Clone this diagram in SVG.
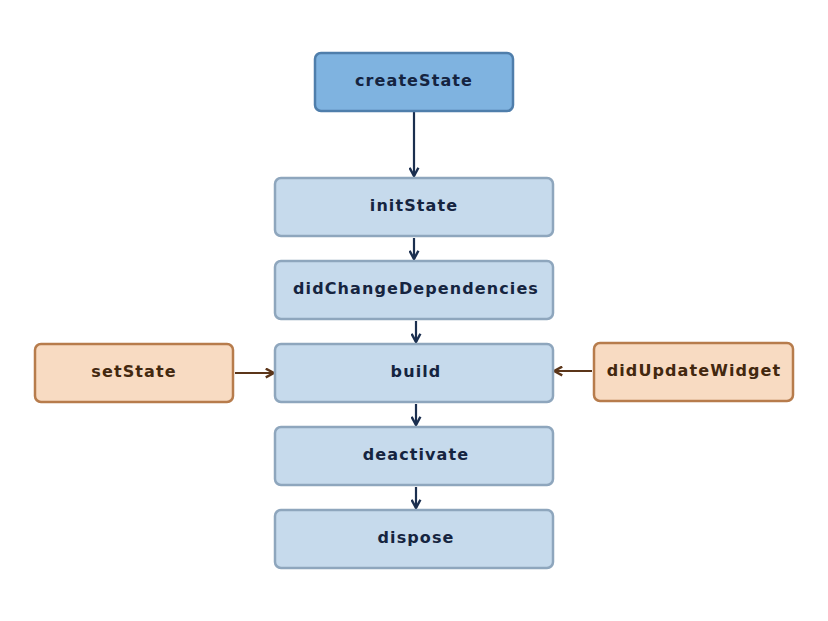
<svg xmlns="http://www.w3.org/2000/svg" width="828" height="621" viewBox="0 0 828 621">
<style>
.box rect{stroke-width:2.5}
.main rect{fill:#7fb3e0;stroke:#4f7eab}
.life rect{fill:#c6daec;stroke:#8ea6bd}
.ext rect{fill:#f8dbc2;stroke:#b77c4c}
text{font-family:"DejaVu Sans","Liberation Sans",sans-serif;font-weight:bold;font-size:16px;letter-spacing:1.1px;text-anchor:middle;dominant-baseline:central}
.main text,.life text{fill:#152440}
.ext text{fill:#43280f}
.navy{stroke:#1b2f4f;stroke-width:2.2;fill:none}
.brown{stroke:#5b3519;stroke-width:2.2;fill:none}
</style>
<defs>
<marker id="an" viewBox="0 0 10 10" refX="9" refY="5" markerWidth="11" markerHeight="11" markerUnits="userSpaceOnUse" orient="auto"><path d="M1.5,1 L9,5 L1.5,9" fill="none" stroke="#1b2f4f" stroke-width="2.2"/></marker>
<marker id="ab" viewBox="0 0 10 10" refX="9" refY="5" markerWidth="11" markerHeight="11" markerUnits="userSpaceOnUse" orient="auto"><path d="M1.5,1 L9,5 L1.5,9" fill="none" stroke="#5b3519" stroke-width="2.2"/></marker>
</defs>
<rect width="828" height="621" fill="#ffffff"/>
<g id="connectors">
<path class="navy" d="M414,112 V176" marker-end="url(#an)"/>
<path class="navy" d="M414,238 V259" marker-end="url(#an)"/>
<path class="navy" d="M416,321 V342" marker-end="url(#an)"/>
<path class="navy" d="M416,404 V425" marker-end="url(#an)"/>
<path class="navy" d="M416,487 V508" marker-end="url(#an)"/>
<path class="brown" d="M235,373 H274" marker-end="url(#ab)"/>
<path class="brown" d="M592,371 H554" marker-end="url(#ab)"/>
</g>
<g id="createState" class="box main"><rect x="315" y="53" width="198" height="58" rx="6"/><text x="414" y="80">createState</text></g>
<g id="initState" class="box life"><rect x="275" y="178" width="278" height="58" rx="6"/><text x="414" y="205">initState</text></g>
<g id="didChangeDependencies" class="box life"><rect x="275" y="261" width="278" height="58" rx="6"/><text x="416" y="288">didChangeDependencies</text></g>
<g id="build" class="box life"><rect x="275" y="344" width="278" height="58" rx="6"/><text x="416" y="371">build</text></g>
<g id="deactivate" class="box life"><rect x="275" y="427" width="278" height="58" rx="6"/><text x="416" y="454">deactivate</text></g>
<g id="dispose" class="box life"><rect x="275" y="510" width="278" height="58" rx="6"/><text x="416" y="537">dispose</text></g>
<g id="setState" class="box ext"><rect x="35" y="344" width="198" height="58" rx="6"/><text x="134" y="371">setState</text></g>
<g id="didUpdateWidget" class="box ext"><rect x="594" y="343" width="199" height="58" rx="6"/><text x="694" y="370">didUpdateWidget</text></g>
</svg>
